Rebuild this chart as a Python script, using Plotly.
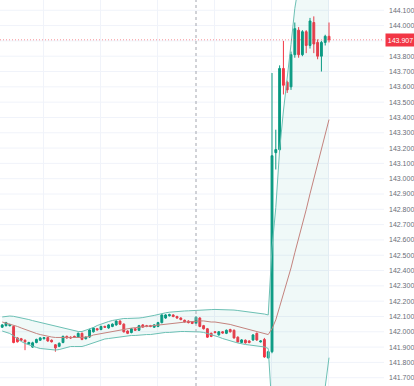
import plotly.graph_objects as go

# ---- data ----
idx = list(range(87))

opens = [142.030, 142.040, 142.040, 142.035, 141.960, 141.955, 141.945, 141.920, 141.900, 141.930,
         141.945, 141.955, 141.962, 141.945, 141.915, 141.905, 141.930, 141.970, 141.965, 141.970,
         141.965, 141.990, 141.955, 141.966, 142.000, 142.020, 142.015, 142.035, 142.025, 142.035,
         142.045, 142.070, 142.050, 142.005, 141.995, 142.020, 142.010, 142.045, 142.040, 142.040,
         142.030, 142.035, 142.060, 142.090, 142.105, 142.110, 142.100, 142.090, 142.075, 142.070,
         142.065, 142.055, 142.090, 142.040, 142.020, 141.990, 142.000, 141.980, 142.000, 141.990,
         142.015, 142.010, 141.965, 141.930, 141.945, 141.940, 141.947, 141.990, 141.934, 141.950,
         141.830, 141.870, 143.170, 143.190, 143.720, 143.630, 143.600, 143.810, 143.970, 143.810,
         143.960, 143.870, 144.020, 143.890, 143.800, 143.890, 143.930]
highs = [142.050, 142.065, 142.052, 142.040, 141.965, 141.960, 141.950, 141.935, 141.935, 141.955,
         141.965, 141.966, 141.966, 141.950, 141.920, 141.930, 141.975, 141.975, 141.970, 141.975,
         141.995, 141.995, 141.970, 142.020, 142.030, 142.025, 142.040, 142.040, 142.050, 142.055,
         142.075, 142.075, 142.055, 142.010, 142.025, 142.025, 142.045, 142.050, 142.045, 142.045,
         142.050, 142.065, 142.115, 142.115, 142.118, 142.115, 142.105, 142.095, 142.080, 142.075,
         142.070, 142.100, 142.095, 142.045, 142.025, 141.995, 142.005, 142.005, 142.005, 142.015,
         142.020, 142.015, 141.970, 141.952, 141.950, 141.945, 141.985, 141.995, 141.945, 141.960,
         141.875, 143.690, 143.320, 143.740, 143.900, 143.640, 143.830, 144.020, 143.990, 143.970,
         143.970, 144.050, 144.060, 143.910, 143.900, 143.940, 144.020]
lows = [142.025, 142.035, 142.035, 141.925, 141.930, 141.940, 141.880, 141.915, 141.895, 141.925,
        141.940, 141.950, 141.935, 141.930, 141.870, 141.900, 141.925, 141.955, 141.955, 141.960,
        141.960, 141.945, 141.950, 141.960, 141.995, 142.008, 142.010, 142.025, 142.020, 142.030,
        142.040, 142.045, 141.995, 141.985, 141.990, 142.005, 142.005, 142.025, 142.030, 142.030,
        142.025, 142.030, 142.055, 142.085, 142.100, 142.095, 142.085, 142.075, 142.060, 142.055,
        142.050, 142.050, 142.030, 142.015, 141.960, 141.965, 141.990, 141.975, 141.988, 141.985,
        141.995, 141.955, 141.930, 141.925, 141.923, 141.925, 141.940, 141.940, 141.930, 141.830,
        141.825, 141.860, 143.060, 143.180, 143.550, 143.560, 143.580, 143.790, 143.790, 143.800,
        143.820, 143.850, 143.820, 143.780, 143.700, 143.870, 143.890]
closes = [142.045, 142.060, 142.048, 141.930, 141.935, 141.945, 141.935, 141.930, 141.928, 141.950,
          141.960, 141.962, 141.940, 141.935, 141.895, 141.925, 141.970, 141.960, 141.960, 141.965,
          141.990, 141.950, 141.965, 142.012, 142.025, 142.013, 142.035, 142.030, 142.045, 142.050,
          142.070, 142.050, 142.000, 141.990, 142.020, 142.010, 142.040, 142.031, 142.035, 142.035,
          142.045, 142.060, 142.110, 142.110, 142.112, 142.100, 142.090, 142.080, 142.065, 142.060,
          142.055, 142.095, 142.035, 142.020, 141.965, 141.970, 141.995, 142.000, 141.992, 142.010,
          142.000, 141.960, 141.934, 141.947, 141.928, 141.930, 141.979, 141.947, 141.940, 141.836,
          141.870, 143.150, 143.190, 143.720, 143.610, 143.580, 143.810, 143.980, 143.810, 143.960,
          143.870, 144.030, 143.880, 143.800, 143.890, 143.930, 143.907]

bb_upper = [142.097, 142.101, 142.103, 142.101, 142.097, 142.091, 142.086, 142.080, 142.073, 142.067,
            142.061, 142.054, 142.048, 142.041, 142.035, 142.028, 142.022, 142.015, 142.009, 142.005,
            142.002, 142.002, 142.009, 142.018, 142.028, 142.041, 142.051, 142.061, 142.067, 142.074,
            142.080, 142.084, 142.087, 142.087, 142.087, 142.087, 142.090, 142.093, 142.097, 142.100,
            142.107, 142.113, 142.120, 142.124, 142.128, 142.131, 142.133, 142.135, 142.136, 142.137,
            142.139, 142.140, 142.141, 142.142, 142.144, 142.145, 142.146, 142.146, 142.146, 142.146,
            142.144, 142.142, 142.139, 142.136, 142.133, 142.129, 142.126, 142.123, 142.120, 142.116,
            142.110, 142.547, 142.811, 143.187, 143.442, 143.647, 143.877, 144.112, 144.278, 144.451,
            144.583, 144.720, 144.809, 144.866, 144.912, 144.939, 144.940]
bb_basis = [142.064, 142.058, 142.051, 142.045, 142.035, 142.025, 142.015, 142.005, 141.996, 141.989,
            141.982, 141.976, 141.969, 141.966, 141.963, 141.963, 141.960, 141.960, 141.960, 141.960,
            141.960, 141.963, 141.966, 141.969, 141.979, 141.984, 141.989, 141.994, 141.999, 142.004,
            142.009, 142.013, 142.017, 142.020, 142.024, 142.027, 142.030, 142.033, 142.036, 142.038,
            142.041, 142.044, 142.047, 142.050, 142.053, 142.057, 142.059, 142.062, 142.064, 142.066,
            142.067, 142.071, 142.071, 142.071, 142.067, 142.064, 142.064, 142.061, 142.058, 142.054,
            142.048, 142.041, 142.035, 142.028, 142.022, 142.015, 142.009, 142.002, 141.996, 141.989,
            141.982, 142.020, 142.078, 142.163, 142.245, 142.326, 142.417, 142.516, 142.607, 142.704,
            142.798, 142.901, 142.998, 143.091, 143.189, 143.289, 143.386]
bb_lower = [142.005, 141.999, 141.989, 141.973, 141.953, 141.937, 141.924, 141.914, 141.904, 141.898,
            141.891, 141.888, 141.884, 141.881, 141.881, 141.884, 141.891, 141.898, 141.904, 141.904,
            141.904, 141.904, 141.911, 141.920, 141.930, 141.940, 141.947, 141.953, 141.956, 141.960,
            141.963, 141.966, 141.969, 141.973, 141.976, 141.976, 141.979, 141.979, 141.982, 141.982,
            141.986, 141.989, 141.992, 141.996, 141.996, 141.999, 141.999, 142.002, 142.002, 142.002,
            142.002, 142.002, 141.999, 141.996, 141.989, 141.982, 141.976, 141.966, 141.956, 141.947,
            141.940, 141.934, 141.927, 141.920, 141.917, 141.914, 141.911, 141.911, 141.907, 141.901,
            141.891, 141.494, 141.345, 141.140, 141.049, 141.005, 140.957, 140.920, 140.935, 140.957,
            141.012, 141.082, 141.188, 141.316, 141.466, 141.640, 141.831]

# price-axis tick labels (143.900 is hidden under the last-price tag in the reference)
tick_values = [141.7, 141.8, 141.9, 142.0, 142.1, 142.2, 142.3, 142.4, 142.5, 142.6, 142.7,
               142.8, 142.9, 143.0, 143.1, 143.2, 143.3, 143.4, 143.5, 143.6, 143.7, 143.8,
               144.0, 144.1]
grid_values = [141.7, 141.8, 141.9, 142.0, 142.1, 142.2, 142.3, 142.4, 142.5, 142.6, 142.7,
               142.8, 142.9, 143.0, 143.1, 143.2, 143.3, 143.4, 143.5, 143.6, 143.7, 143.8,
               143.9, 144.0, 144.1]

last_price = 143.907
last_label = "143.907"
crosshair_x = 51

UP = "#089981"
DOWN = "#F23645"
GRID = "#f0f3fa"

fig = go.Figure()

fig.add_trace(go.Scatter(x=idx, y=bb_upper, mode="lines",
                         line=dict(color="#6cc0b4", width=1), hoverinfo="skip", showlegend=False))
fig.add_trace(go.Scatter(x=idx, y=bb_lower, mode="lines",
                         line=dict(color="#6cc0b4", width=1), fill="tonexty",
                         fillcolor="rgba(38,166,154,0.07)", hoverinfo="skip", showlegend=False))
fig.add_trace(go.Scatter(x=idx, y=bb_basis, mode="lines",
                         line=dict(color="#c4837e", width=1), hoverinfo="skip", showlegend=False))

fig.add_trace(go.Candlestick(
    x=idx, open=opens, high=highs, low=lows, close=closes,
    increasing=dict(line=dict(color=UP, width=1), fillcolor=UP),
    decreasing=dict(line=dict(color=DOWN, width=1), fillcolor=DOWN),
    whiskerwidth=0, showlegend=False))

# horizontal grid lines at every 0.1 (drawn beneath the data)
for g in grid_values:
    fig.add_shape(type="line", xref="paper", yref="y", x0=0, x1=1, y0=g, y1=g,
                  line=dict(color=GRID, width=1), layer="below")

# crosshair vertical line
fig.add_shape(type="line", xref="x", yref="paper", x0=crosshair_x, x1=crosshair_x, y0=0, y1=1,
              line=dict(color="#a3a6af", width=1, dash="3px,3px"), layer="above")
# last price line
fig.add_shape(type="line", xref="paper", yref="y", x0=0, x1=1, y0=last_price, y1=last_price,
              line=dict(color="rgba(242,54,69,0.55)", width=1, dash="1px,2px"), layer="above")

fig.add_annotation(xref="paper", yref="y", x=1, y=last_price, text=last_label,
                   showarrow=False, xanchor="left", yanchor="middle", xshift=1,
                   bgcolor=DOWN, font=dict(color="white", size=7, family="Liberation Sans"),
                   width=29, height=12, borderpad=0)

fig.update_layout(
    width=414, height=386,
    margin=dict(l=0, r=30, t=0, b=0),
    paper_bgcolor="white", plot_bgcolor="white",
    showlegend=False,
    xaxis=dict(range=[-0.579, 100.47], rangeslider=dict(visible=False),
               showticklabels=False, showgrid=True, gridcolor=GRID, gridwidth=1,
               tick0=10.74, dtick=15, zeroline=False, showline=False, fixedrange=True),
    yaxis=dict(range=[141.646, 144.167], side="right", tickmode="array",
               tickvals=tick_values, tickformat=".3f", showgrid=False,
               zeroline=False, showline=False, ticks="", ticklabelstandoff=4,
               tickfont=dict(size=7, color="#6a6d78", family="Liberation Sans"),
               fixedrange=True),
)

fig.write_html("out.html", config={"displayModeBar": False},
               post_script="document.body.style.margin='0';document.body.style.padding='0';")
